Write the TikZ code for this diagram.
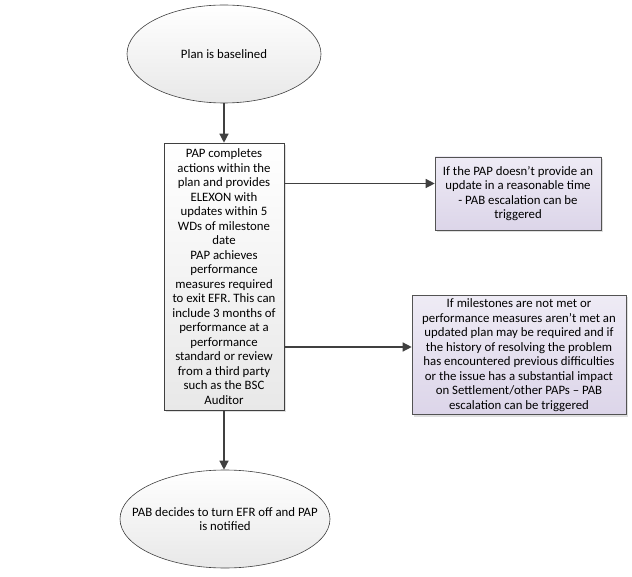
\documentclass[tikz,border=0pt]{standalone}
\usepackage{fontspec}
\setmainfont{Carlito}
\usetikzlibrary{shapes.geometric,arrows.meta,shadows}
\definecolor{linegray}{HTML}{404040}
\definecolor{esctop}{HTML}{EEEBF5}
\definecolor{escbottom}{HTML}{DCD5E9}
\begin{document}
\begin{tikzpicture}[x=1pt, y=-1pt, font=\fontsize{12.8}{14.5}\selectfont,
        every node/.append style={align=center, text=black}]
      \tikzstyle{terminal} = [ellipse, draw=linegray, line width=0.6pt, top color=white,
        bottom color=black!9, minimum width=194pt, minimum height=98pt, inner sep=0pt]
      \tikzstyle{activity} = [rectangle, draw=linegray, line width=0.6pt, top color=white,
        bottom color=black!9, drop shadow={shadow xshift=2pt, shadow yshift=-2pt, opacity=.25}]
      \tikzstyle{escalation} = [rectangle, draw=linegray!90, line width=0.6pt, top color=esctop,
        bottom color=escbottom, drop shadow={shadow xshift=2pt, shadow yshift=-2pt, opacity=.25}]
      \tikzstyle{flow} = [draw=linegray, line width=1.3pt, -{Triangle[length=9pt,width=9pt]}]
      \useasboundingbox (0,0) rectangle (632,577);
      \node (baselined) [terminal] at (224,54) {Plan is baselined};
      \node (actions) [activity, minimum width=120pt, minimum height=267pt] at (224,276.5)
        {PAP completes\\actions within the\\plan and provides\\ELEXON with\\updates within 5\\
         WDs of milestone\\date\\PAP achieves\\performance\\measures required\\
         to exit EFR. This can\\include 3 months of\\performance at a\\performance\\
         standard or review\\from a third party\\such as the BSC\\Auditor};
      \node (noupdate) [escalation, minimum width=166pt, minimum height=73pt] at (518,193.5)
        {If the PAP doesn’t provide an\\update in a reasonable time\\- PAB escalation can be\\triggered};
      \node (notmet) [escalation, minimum width=214pt, minimum height=116pt] at (519,355)
        {If milestones are not met or\\performance measures aren’t met an\\
         updated plan may be required and if\\the history of resolving the problem\\
         has encountered previous difficulties\\or the issue has a substantial impact\\
         on Settlement/other PAPs – PAB\\escalation can be triggered};
      \node (turnoff) [terminal, minimum width=210pt, inner xsep=-25pt] at (225,519)
        {PAB decides to turn EFR off and PAP\\is notified};
      % connectors
      \path ([yshift=10pt]noupdate.west) coordinate (in1);
      \path ([yshift=8pt]notmet.west) coordinate (in2);
      \draw[flow] (baselined) -- (actions);
      \draw[flow] (actions.east |- in1) -- (in1);
      \draw[flow] (actions.east |- in2) -- (in2);
      \draw[flow] (actions) -- (actions |- turnoff.north);
    \end{tikzpicture}
\end{document}
